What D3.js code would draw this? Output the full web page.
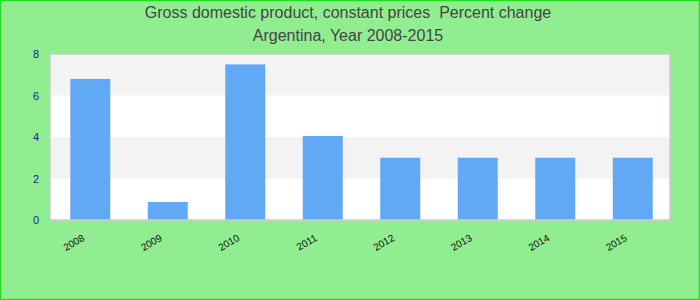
<!DOCTYPE html>
<html>
<head>
<meta charset="utf-8">
<script src="https://cdn.jsdelivr.net/npm/d3@7"></script>
<style>
  body { margin: 0; }
  svg { display: block; font-family: "Liberation Sans", Arial, sans-serif; }
</style>
</head>
<body>
<script>
const years = ["2008", "2009", "2010", "2011", "2012", "2013", "2014", "2015"];
const values = [6.8, 0.87, 7.5, 4.05, 3.0, 3.0, 3.0, 3.0];
const yTicks = [0, 2, 4, 6, 8];
const titleLines = ["Gross domestic product, constant prices  Percent change", "Argentina, Year 2008-2015"];

const width = 700;
const height = 300;
const margin = { top: 54, right: 30, bottom: 80, left: 50 };

const svg = d3.select("body")
  .append("svg")
  .attr("width", width)
  .attr("height", height);

// background + border
svg.append("rect")
  .attr("x", 0.5).attr("y", 0.5)
  .attr("width", width - 1).attr("height", height - 1)
  .attr("fill", "#90ee90")
  .attr("stroke", "#22dd22")
  .attr("stroke-width", 1.5);

const x = d3.scaleBand()
  .domain(years)
  .range([margin.left, width - margin.right])
  .paddingInner(0.484)
  .paddingOuter(0.242)
  .align(0.54);

const y = d3.scaleLinear()
  .domain([0, 8])
  .range([height - margin.bottom, margin.top]);

// plot background
svg.append("rect")
  .attr("x", margin.left).attr("y", margin.top)
  .attr("width", width - margin.left - margin.right)
  .attr("height", height - margin.top - margin.bottom)
  .attr("fill", "#fff");

// alternating bands
svg.selectAll(".band")
  .data(yTicks.slice(0, -1).filter((d, i) => i % 2 === 1))
  .enter()
  .append("rect")
  .attr("x", margin.left)
  .attr("width", width - margin.left - margin.right)
  .attr("y", d => y(d + 2))
  .attr("height", d => y(d) - y(d + 2))
  .attr("fill", "#f3f3f3");

// bars
svg.selectAll(".bar")
  .data(values)
  .enter()
  .append("rect")
  .attr("x", (d, i) => x(years[i]))
  .attr("width", x.bandwidth())
  .attr("y", d => y(d))
  .attr("height", d => y(0) - y(d))
  .attr("fill", "#62a9f5");

// frame
svg.append("rect")
  .attr("x", margin.left).attr("y", margin.top)
  .attr("width", width - margin.left - margin.right)
  .attr("height", height - margin.top - margin.bottom)
  .attr("fill", "none")
  .attr("stroke", "#cccccc")
  .attr("stroke-width", 1.5);

// y axis labels
svg.selectAll(".ylab")
  .data(yTicks)
  .enter()
  .append("text")
  .attr("x", margin.left - 11)
  .attr("y", d => y(d) + 4)
  .attr("text-anchor", "end")
  .attr("font-size", 11)
  .attr("fill", "#1a1a99")
  .text(d => d);

// x axis labels
svg.selectAll(".xlab")
  .data(years)
  .enter()
  .append("text")
  .attr("transform", d => `translate(${x(d) + x.bandwidth() / 2 - 5},${y(0) + 20}) rotate(-30)`)
  .attr("text-anchor", "end")
  .attr("font-size", 10)
  .attr("fill", "#111")
  .text(d => d);

// title
svg.selectAll(".title")
  .data(titleLines)
  .enter()
  .append("text")
  .attr("x", width / 2 - 2)
  .attr("y", (d, i) => 18 + i * 23)
  .attr("text-anchor", "middle")
  .attr("font-size", 16)
  .attr("fill", "#444")
  .style("white-space", "pre")
  .text(d => d);
</script>
</body>
</html>
